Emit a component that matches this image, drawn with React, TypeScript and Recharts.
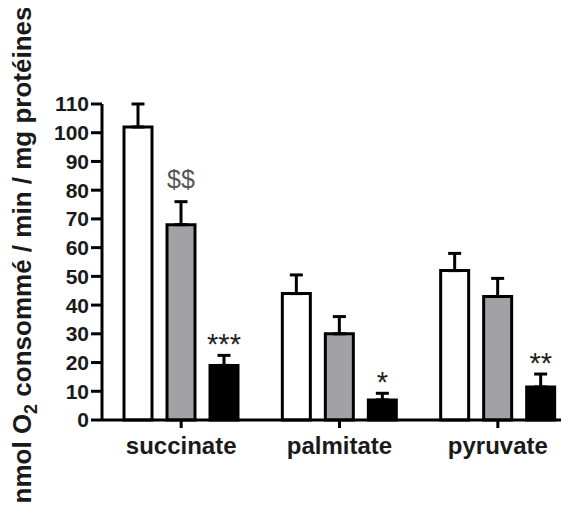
import React from "react";
import { BarChart, Bar, XAxis, YAxis, ErrorBar, LabelList } from "recharts";

const categories = ["succinate", "palmitate", "pyruvate"];
const whiteValues = [102, 44, 52];
const whiteErrors = [8, 6.5, 6];
const grayValues = [68, 30, 43];
const grayErrors = [8, 6, 6.3];
const blackValues = [19, 7, 11.5];
const blackErrors = [3.5, 2.3, 4.5];
const grayMarks = ["$$", "", ""];
const blackMarks = ["***", "*", "**"];
const yTicks = [0, 10, 20, 30, 40, 50, 60, 70, 80, 90, 100, 110];

const data = categories.map((c, i) => ({
  name: c,
  white: whiteValues[i],
  whiteErr: [0, whiteErrors[i]],
  gray: grayValues[i],
  grayErr: [0, grayErrors[i]],
  grayMark: grayMarks[i],
  black: blackValues[i],
  blackErr: [0, blackErrors[i]],
  blackMark: blackMarks[i],
}));

const FONT = '"Liberation Sans", Arial, Helvetica, sans-serif';

const makeMark = (errors: number[], values: number[], color: string, size: number, gap: number) => (props: any) => {
  const { x, y, width, height, value, index } = props;
  if (!value) return null;
  const v = values[index];
  const pxPerUnit = Math.abs(height) / v;
  const capY = y - errors[index] * pxPerUnit;
  return (
    <text
      x={x + width / 2}
      y={capY - gap}
      textAnchor="middle"
      fontFamily={FONT}
      fontSize={size}
      fill={color}
    >
      {value}
    </text>
  );
};

const YLabel = () => (
  <text
    transform="rotate(-90, 23, 247)"
    x={23}
    y={247}
    textAnchor="middle"
    fontFamily={FONT}
    fontWeight="bold"
    fontSize={26}
    fill="#1a1a1a"
  >
    <tspan>nmol O</tspan>
    <tspan fontSize={18} dy={6}>2</tspan>
    <tspan dy={-6}> consommé / min / mg protéines</tspan>
  </text>
);

export default function App() {
  return (
    <BarChart
      width={561}
      height={498}
      data={data}
      margin={{ top: 96, right: 3, bottom: 26, left: 0 }}
      barSize={28}
      barGap={15}
    >
      <XAxis
        dataKey="name"
        padding={{ left: 0, right: -11 }}
        height={60}
        tickSize={8}
        tickMargin={9}
        axisLine={{ stroke: "#000", strokeWidth: 3 }}
        tickLine={{ stroke: "#000", strokeWidth: 3 }}
        tick={{ fontFamily: FONT, fontWeight: "bold", fontSize: 24, fill: "#1a1a1a" }}
      />
      <YAxis
        width={94}
        domain={[0, 110]}
        ticks={yTicks}
        interval={0}
        tickSize={11}
        tickMargin={2}
        axisLine={{ stroke: "#000", strokeWidth: 3 }}
        tickLine={{ stroke: "#000", strokeWidth: 3 }}
        tick={{ fontFamily: FONT, fontWeight: "bold", fontSize: 21, fill: "#1a1a1a" }}
        label={{ content: () => <YLabel /> }}
      />
      <Bar dataKey="white" fill="#ffffff" stroke="#000" strokeWidth={3} isAnimationActive={false}>
        <ErrorBar dataKey="whiteErr" width={6.5} stroke="#000" strokeWidth={3} direction="y" />
      </Bar>
      <Bar dataKey="gray" fill="#a2a2a6" stroke="#000" strokeWidth={3} isAnimationActive={false}>
        <ErrorBar dataKey="grayErr" width={6.5} stroke="#000" strokeWidth={3} direction="y" />
        <LabelList dataKey="grayMark" content={makeMark(grayErrors, grayValues, "#555555", 25, 14)} />
      </Bar>
      <Bar dataKey="black" fill="#000000" stroke="#000" strokeWidth={3} isAnimationActive={false}>
        <ErrorBar dataKey="blackErr" width={6.5} stroke="#000" strokeWidth={3} direction="y" />
        <LabelList dataKey="blackMark" content={makeMark(blackErrors, blackValues, "#222222", 29, 1)} />
      </Bar>
    </BarChart>
  );
}
